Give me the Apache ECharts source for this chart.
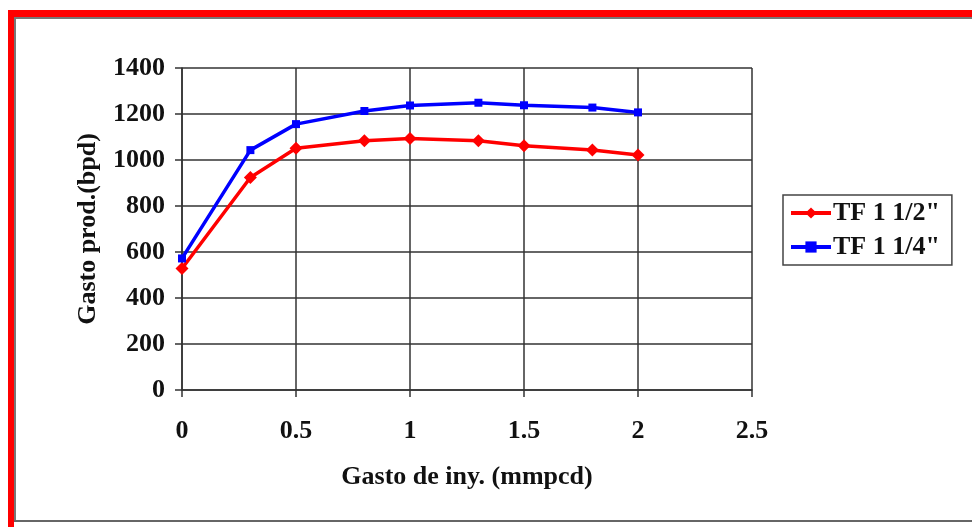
<!DOCTYPE html>
<html>
<head>
<meta charset="utf-8">
<script src="https://cdn.jsdelivr.net/npm/echarts@6/dist/echarts.min.js"></script>
<style>
html,body{margin:0;padding:0;background:#fff;}
#c{width:972px;height:527px;}
</style>
</head>
<body>
<div id="c"></div>
<script>
const xValues = [0, 0.3, 0.5, 0.8, 1.0, 1.3, 1.5, 1.8, 2.0];
const tf12 = [528, 924, 1051, 1084, 1093, 1084, 1062, 1043, 1022];
const tf14 = [572, 1043, 1156, 1213, 1237, 1249, 1238, 1228, 1207];
const seriesNames = ['TF 1 1/2"', 'TF 1 1/4"'];
const xTitle = 'Gasto de iny. (mmpcd)';
const yTitle = 'Gasto prod.(bpd)';

const font = '"Liberation Serif", "Times New Roman", serif';
const fs = 26;
const chart = echarts.init(document.getElementById('c'));
chart.setOption({
  animation: false,
  backgroundColor: '#fff',
  graphic: [
    {type:'rect', shape:{x:8,y:10,width:964,height:7}, style:{fill:'#ff0000'}},
    {type:'rect', shape:{x:8,y:10,width:6,height:517}, style:{fill:'#ff0000'}},
    {type:'rect', shape:{x:14,y:17,width:958,height:2}, style:{fill:'#777'}},
    {type:'rect', shape:{x:14,y:17,width:2,height:505}, style:{fill:'#777'}},
    {type:'rect', shape:{x:14,y:520,width:958,height:2}, style:{fill:'#666'}}
  ],
  grid: {left:182, top:68, width:570, height:322, containLabel:false},
  legend: {
    orient:'vertical', left:783, top:195,
    data: seriesNames,
    borderColor:'#444', borderWidth:1.5, padding:[5,12,5,6],
    itemWidth:40, itemHeight:14, itemGap:8,
    lineStyle:{width:4},
    textStyle:{fontFamily:font, fontWeight:'bold', fontSize:fs, color:'#111', padding:[0,0,0,-3]}
  },
  xAxis: {
    type:'value', min:0, max:2.5, interval:0.5,
    name: xTitle, nameLocation:'middle', nameGap:74,
    nameTextStyle:{fontFamily:font, fontWeight:'bold', fontSize:fs, color:'#111'},
    axisLine:{show:true, onZero:false, lineStyle:{color:'#333', width:1.5}},
    axisTick:{show:true, inside:false, length:7, lineStyle:{color:'#333', width:1.5}},
    axisLabel:{fontFamily:font, fontWeight:'bold', fontSize:fs, color:'#111', margin:28},
    splitLine:{show:true, lineStyle:{color:'#333', width:1.5}}
  },
  yAxis: {
    type:'value', min:0, max:1400, interval:200,
    name: yTitle, nameLocation:'middle', nameGap:81, nameRotate:90,
    nameTextStyle:{fontFamily:font, fontWeight:'bold', fontSize:fs, color:'#111'},
    axisLine:{show:true, lineStyle:{color:'#333', width:1.5}},
    axisTick:{show:true, length:7, lineStyle:{color:'#333', width:1.5}},
    axisLabel:{fontFamily:font, fontWeight:'bold', fontSize:fs, color:'#111', margin:17,
      formatter: v => String(v)},
    splitLine:{show:true, lineStyle:{color:'#333', width:1.5}}
  },
  series: [
    {
      name: seriesNames[0], type:'line',
      data: xValues.map((x,i)=>[x, tf12[i]]),
      symbol:'diamond', symbolSize:13,
      itemStyle:{color:'#ff0000'}, lineStyle:{color:'#ff0000', width:3.5},
      z:3
    },
    {
      name: seriesNames[1], type:'line',
      data: xValues.map((x,i)=>[x, tf14[i]]),
      symbol:'rect', symbolSize:8,
      itemStyle:{color:'#0000ff'}, lineStyle:{color:'#0000ff', width:3.5},
      z:4
    }
  ]
});
</script>
</body>
</html>
